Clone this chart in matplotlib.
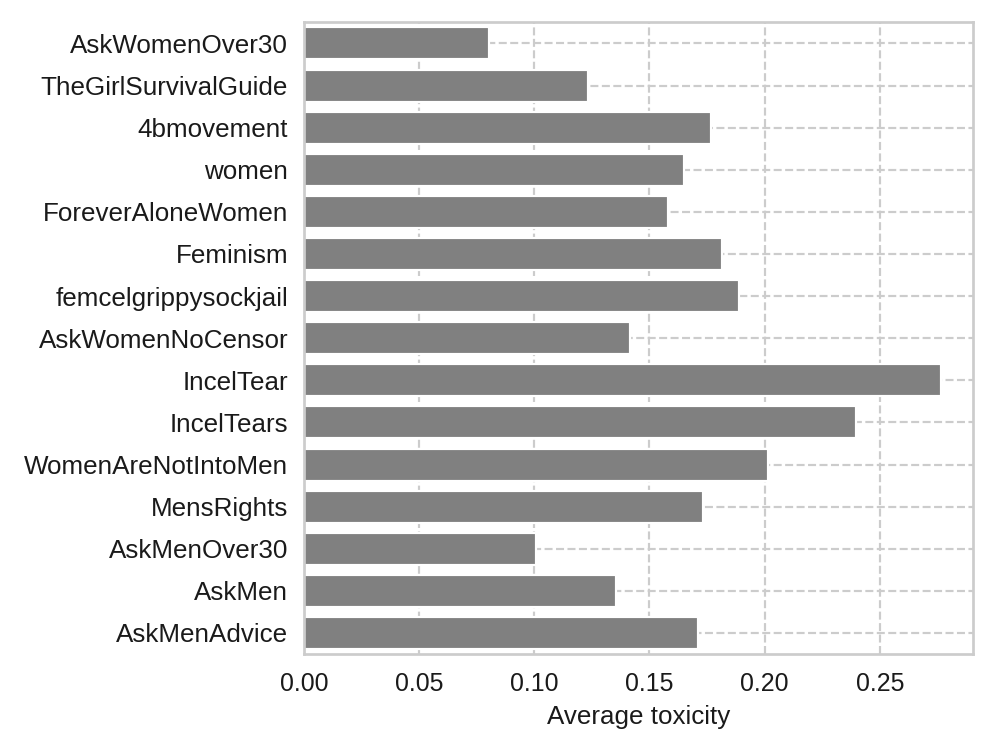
import matplotlib
matplotlib.use("Agg")
import matplotlib.pyplot as plt
import seaborn as sns

# subreddits, top to bottom as shown
subreddits = [
    "AskWomenOver30", "TheGirlSurvivalGuide", "4bmovement", "women",
    "ForeverAloneWomen", "Feminism", "femcelgrippysockjail",
    "AskWomenNoCensor", "IncelTear", "IncelTears", "WomenAreNotIntoMen",
    "MensRights", "AskMenOver30", "AskMen", "AskMenAdvice",
]
avg_toxicity = [
    0.0804, 0.1234, 0.1766, 0.1649, 0.1581, 0.1814, 0.1891,
    0.1417, 0.2764, 0.2395, 0.2017, 0.1731, 0.1010, 0.1357, 0.1711,
]
xticks = [0.00, 0.05, 0.10, 0.15, 0.20, 0.25]

sns.set_theme(style="whitegrid")
plt.rcParams["font.family"] = ["Liberation Sans", "DejaVu Sans"]
plt.rcParams["grid.linestyle"] = "--"

fig = plt.figure(figsize=(6.4, 4.8), dpi=155.625)
ax = fig.add_axes([0.305, 0.1245, 0.672, 0.8455])

pos = list(range(len(subreddits)))
ax.barh(pos, avg_toxicity, height=0.76, color="#808080", zorder=2)
ax.set_yticks(pos)
ax.set_yticklabels(subreddits)
ax.set_ylim(len(subreddits) - 0.5, -0.5)
ax.set_xlim(0, 0.2905)
ax.set_xticks(xticks)
ax.set_xticklabels([f"{t:.2f}" for t in xticks])
ax.tick_params(axis="both", length=0, colors="#1a1a1a")
ax.tick_params(axis="y", labelsize=12, pad=7.2)
ax.tick_params(axis="x", labelsize=11.5, pad=8.5)
ax.set_xlabel("Average toxicity", fontsize=12, labelpad=4, color="#1a1a1a")
ax.set_ylabel("")
ax.set_axisbelow(True)

fig.savefig("out.png", dpi=155.625)
plt.close(fig)
